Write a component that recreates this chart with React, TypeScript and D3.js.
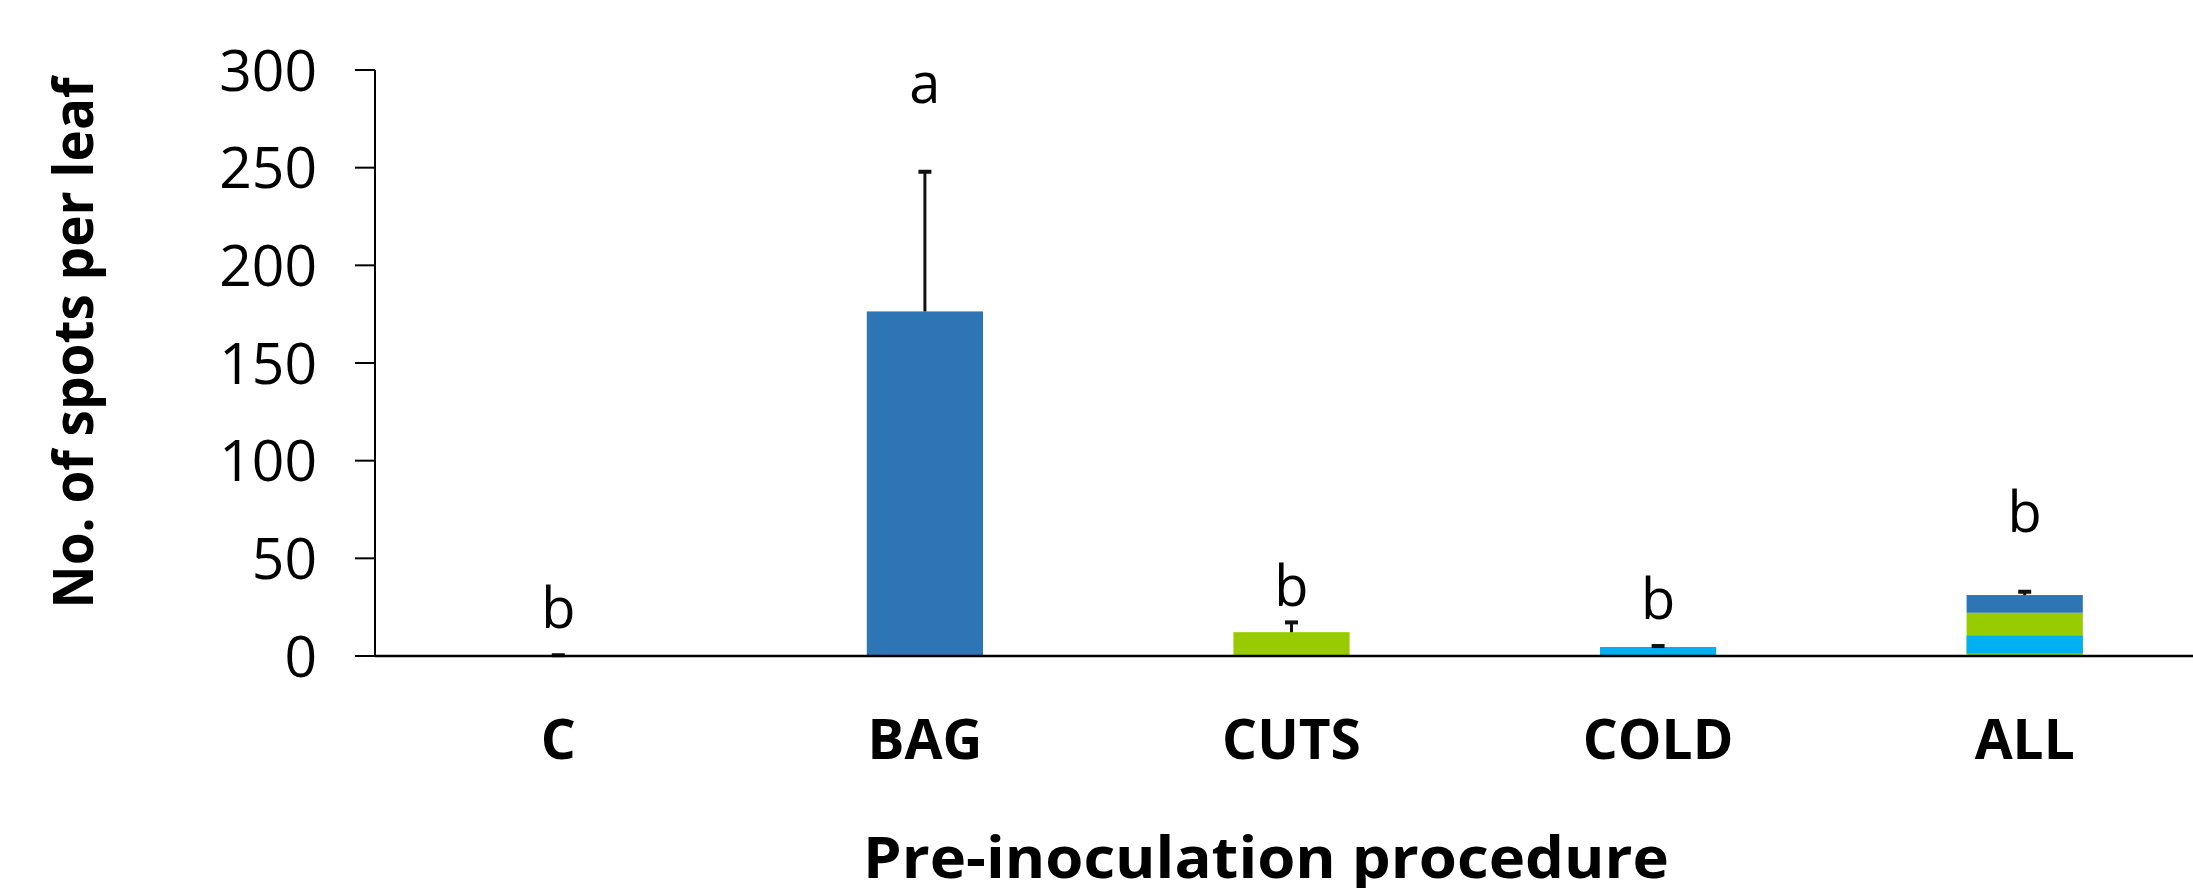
import React from "react";
import * as d3 from "d3";

const categories = ["C", "BAG", "CUTS", "COLD", "ALL"];
const means = [0.2, 176.4, 12.2, 4.6, 31.2];
const errors = [0.2, 71.5, 5.0, 0.5, 1.7];
const barColors = ["#2E75B6", "#2E75B6", "#99CC00", "#00B0F0", "#2E75B6"];
const letters = ["b", "a", "b", "b", "b"];
const letterPos = [14.3, 283, 25.5, 18.9, 63.3];
// ALL bar drawn as overlapping segments [start, end, colour]
const allSegStart = [22.1, 0, 1.4];
const allSegEnd = [31.2, 22.1, 10.4];
const allSegColor = ["#2E75B6", "#99CC00", "#00B0F0"];
const yTicks = [0, 50, 100, 150, 200, 250, 300];

const W = 2193;
const H = 888;
const left = 375;
const right = 2208;
const top = 70;
const bottom = 656;

export default function App() {
  const x = d3
    .scaleBand<string>()
    .domain(categories)
    .range([left, right])
    .paddingInner(0.683)
    .paddingOuter(0.3415);
  const y = d3.scaleLinear().domain([0, 300]).range([bottom, top]);
  const bw = x.bandwidth();
  const font = "'Open Sans', 'Noto Sans', sans-serif";

  return (
    <svg
      width={W}
      height={H}
      style={{ position: "absolute", left: 0, top: 0, background: "#fff" }}
    >
      <style>{`body{margin:0;overflow:hidden}`}</style>
      <rect x={0} y={0} width={W} height={H} fill="#fff" />
      {/* bars */}
      {categories.map((c, i) => {
        const x0 = x(c)!;
        if (c === "ALL") {
          return (
            <g key={c}>
              {allSegStart.map((s, j) => (
                <rect
                  key={j}
                  x={x0}
                  y={y(allSegEnd[j])}
                  width={bw}
                  height={y(s) - y(allSegEnd[j])}
                  fill={allSegColor[j]}
                />
              ))}
            </g>
          );
        }
        return (
          <rect
            key={c}
            x={x0}
            y={y(means[i])}
            width={bw}
            height={y(0) - y(means[i])}
            fill={barColors[i]}
          />
        );
      })}
      {/* error bars */}
      {categories.map((c, i) => {
        const cx = x(c)! + bw / 2;
        const yt = y(means[i] + errors[i]);
        return (
          <g key={"e" + c} stroke="#111">
            <line x1={cx} x2={cx} y1={y(means[i])} y2={yt} strokeWidth={3} />
            <line x1={cx - 6.5} x2={cx + 6.5} y1={yt} y2={yt} strokeWidth={4} />
          </g>
        );
      })}
      {/* axes */}
      <line x1={left} x2={left} y1={top} y2={bottom} stroke="#000" strokeWidth={2} />
      <line x1={left} x2={right} y1={bottom} y2={bottom} stroke="#000" strokeWidth={2.5} />
      {yTicks.map((t) => (
        <g key={t}>
          <line x1={left - 20} x2={left} y1={y(t)} y2={y(t)} stroke="#000" strokeWidth={2} />
          <text
            x={left - 58}
            y={y(t)}
            dy="0.36em"
            textAnchor="end"
            fontFamily={font}
            fontSize={57}
            fill="#000"
          >
            {t}
          </text>
        </g>
      ))}
      {/* significance letters */}
      {categories.map((c, i) => (
        <text
          key={"l" + c}
          x={x(c)! + bw / 2}
          y={y(letterPos[i])}
          textAnchor="middle"
          fontFamily={font}
          fontSize={56}
          fill="#000"
        >
          {letters[i]}
        </text>
      ))}
      {/* category labels */}
      {categories.map((c) => (
        <text
          key={"c" + c}
          x={x(c)! + bw / 2}
          y={759}
          textAnchor="middle"
          fontFamily={font}
          fontWeight="bold"
          fontSize={55}
          fill="#000"
        >
          {c}
        </text>
      ))}
      {/* axis titles */}
      <text
        x={1266}
        y={878}
        textAnchor="middle"
        fontFamily={font}
        fontWeight="bold"
        fontSize={58}
        textLength={806}
        lengthAdjust="spacingAndGlyphs"
        fill="#000"
      >
        Pre-inoculation procedure
      </text>
      <text
        transform={`translate(93,343) rotate(-90)`}
        textAnchor="middle"
        fontFamily={font}
        fontWeight="bold"
        fontSize={56}
        textLength={531}
        lengthAdjust="spacingAndGlyphs"
        fill="#000"
      >
        No. of spots per leaf
      </text>
    </svg>
  );
}
